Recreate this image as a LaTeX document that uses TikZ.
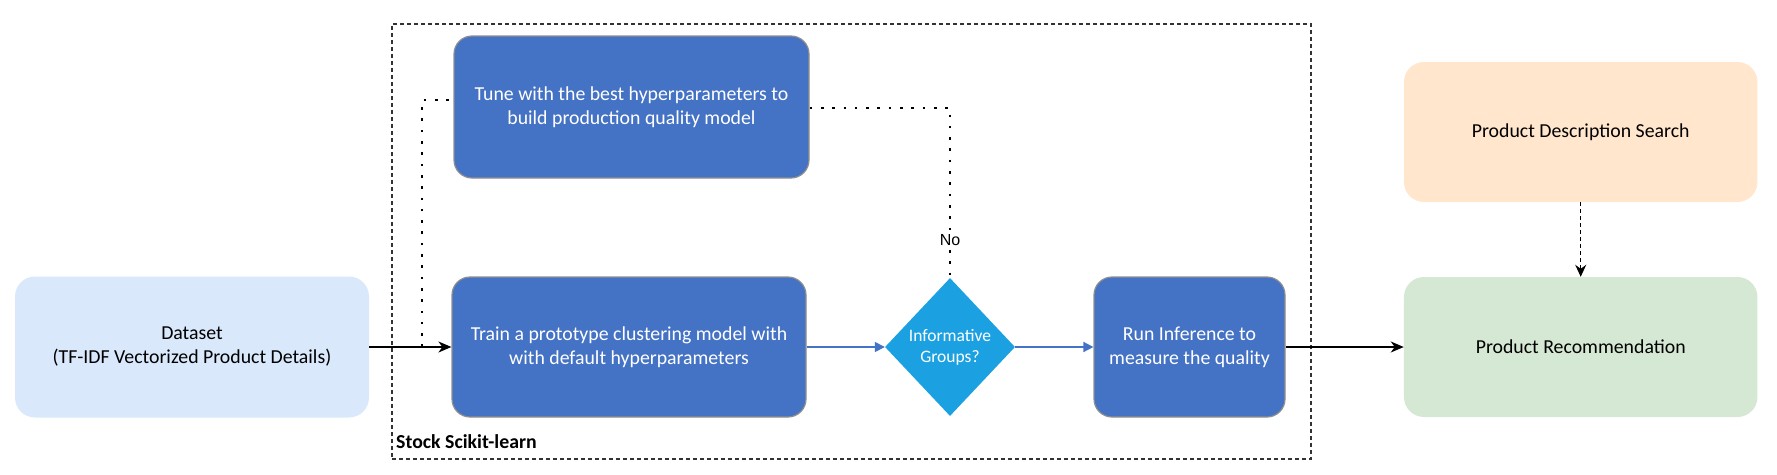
\documentclass[tikz,border=0pt]{standalone}
\usepackage{fontspec}
\setmainfont{Carlito}
\newfontfamily\arialfont{Liberation Sans}
\usetikzlibrary{arrows.meta,shapes.geometric}
\definecolor{bluebox}{HTML}{4472C4}
\definecolor{boxborder}{HTML}{8F8F8F}
\definecolor{diamondfill}{HTML}{1BA1E2}
\definecolor{datafill}{HTML}{DAE8FC}
\definecolor{searchfill}{HTML}{FFE6CC}
\definecolor{recfill}{HTML}{D5E8D4}
\begin{document}
\begin{tikzpicture}[x=1pt,y=1pt,
  boxfont/.style={font=\fontsize{19.8}{24}\selectfont},
  blk/.style={rectangle, rounded corners=18pt, fill=bluebox, draw=boxborder, line width=1.2pt,
    text=white, align=center, inner sep=0pt, boxfont},
  pastel/.style={rectangle, rounded corners=20pt, draw=none, text=black, align=center,
    inner sep=0pt, boxfont},
  decision/.style={diamond, fill=diamondfill, draw=none, inner sep=0pt, minimum width=130pt,
    minimum height=138pt, shape aspect=0.94},
  container/.style={draw=black!80, line width=1.2pt, dash pattern=on 4pt off 3pt},
  barrow/.style={draw=black, line width=1.5pt, -{Stealth[length=13pt,width=11pt,inset=4pt]}},
  bluearrow/.style={draw=bluebox, line width=1.5pt, -{Triangle[length=10pt,width=10pt]}},
  dasharrow/.style={draw=black, line width=1.5pt, dash pattern=on 4pt off 3pt,
    -{Stealth[length=12pt,width=11pt,inset=4pt]}},
  dotline/.style={draw=black, line width=2.6pt, line cap=butt, dash pattern=on 2.6pt off 8.7pt}
]
\useasboundingbox (0,0) rectangle (1777,-474);

% container
\node[container, minimum width=919pt, minimum height=435pt, inner sep=0pt] (cont) at (851.5,-241.5) {};
\node[anchor=base west, inner sep=0pt, font=\bfseries\fontsize{19.8}{24}\selectfont] (stock) at (396,-448) {Stock Scikit-learn};

% nodes
\node[pastel, fill=datafill, minimum width=354pt, minimum height=141pt] (data) at (192,-347) {Dataset\\(TF-IDF Vectorized Product Details)};
\node[blk, minimum width=355pt, minimum height=142pt] (tune) at (631.5,-107) {Tune with the best hyperparameters to\\build production quality model};
\node[blk, minimum width=354pt, minimum height=140pt] (train) at (629,-347) {Train a prototype clustering model with\\with default hyperparameters};
\node[decision, label={[text=white, align=center, font=\fontsize{17.5}{21}\selectfont]center:Informative\\Groups?}] (dec) at (950,-347) {};
\node[blk, minimum width=191pt, minimum height=140pt] (run) at (1189.5,-347) {Run Inference to\\measure the quality};
\node[pastel, fill=searchfill, minimum width=353.5pt, minimum height=140pt] (pds) at (1580.7,-132) {Product Description Search};
\node[pastel, fill=recfill, minimum width=353.5pt, minimum height=140pt] (pr) at (1580.7,-347) {Product Recommendation};

% connectors
\coordinate (lj) at (422,-347);
\draw[dotline] (lj) |- ([yshift=7pt]tune.west);
\draw[dotline] ([yshift=-1pt]tune.east) -| (dec.north)
  node[pos=0.89, fill=white, inner sep=1.5pt, text=black, font=\arialfont\fontsize{16}{18}\selectfont] (nolab) {No};
\draw[barrow] (data.east) -- (train.west);
\draw[bluearrow] (train.east) -- (dec.west);
\draw[bluearrow] (dec.east) -- (run.west);
\draw[barrow] (run.east) -- (pr.west);
\draw[dasharrow] (pds.south) -- (pr.north);
\end{tikzpicture}
\end{document}
